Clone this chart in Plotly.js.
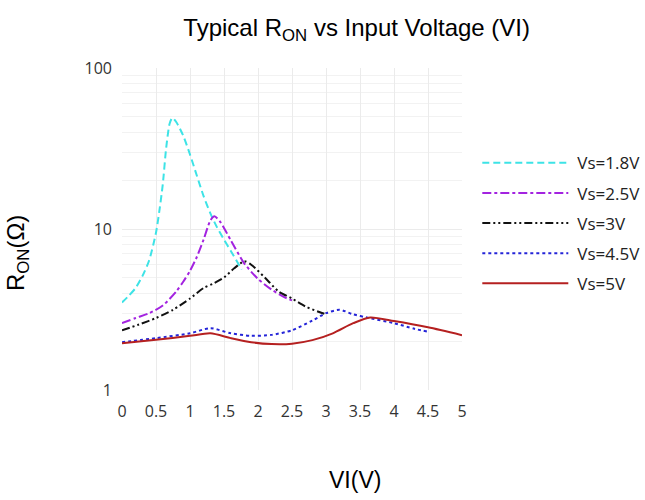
<!DOCTYPE html>
<html>
<head>
<meta charset="utf-8">
<script src="https://cdn.plot.ly/plotly-3.0.1.min.js"></script>
<style>html,body{margin:0;padding:0;background:#fff;}#chart{width:645px;height:500px;}</style>
</head>
<body>
<div id="chart"></div>
<script>
// Vs = 1.8 V
const x18 = [0, 0.1, 0.2, 0.3, 0.4, 0.5, 0.55, 0.6, 0.65, 0.7, 0.74, 0.8, 0.9, 1.0, 1.1, 1.2, 1.3, 1.4, 1.5, 1.6, 1.7, 1.76];
const y18 = [3.5, 3.85, 4.3, 5.1, 6.4, 9.5, 13, 19, 32, 45, 49, 46, 38, 29, 21.5, 16, 12.5, 10.2, 8.6, 7.3, 6.2, 5.6];
// Vs = 2.5 V
const x25 = [0, 0.2, 0.4, 0.6, 0.8, 0.9, 1.0, 1.1, 1.2, 1.3, 1.36, 1.45, 1.6, 1.8, 2.0, 2.2, 2.4, 2.5];
const y25 = [2.6, 2.8, 3.0, 3.35, 4.1, 4.7, 5.5, 6.7, 8.6, 11.3, 12, 11, 8.5, 6.1, 4.9, 4.2, 3.75, 3.6];
// Vs = 3 V
const x3 = [0, 0.25, 0.5, 0.75, 1.0, 1.2, 1.35, 1.5, 1.65, 1.8, 1.9, 2.1, 2.3, 2.5, 2.7, 2.9, 3.0];
const y3 = [2.35, 2.55, 2.8, 3.15, 3.7, 4.3, 4.6, 5.0, 5.7, 6.3, 6.0, 5.0, 4.1, 3.7, 3.3, 3.05, 2.95];
// Vs = 4.5 V
const x45 = [0, 0.5, 1.0, 1.3, 1.6, 1.9, 2.2, 2.5, 2.8, 3.0, 3.2, 3.4, 3.6, 4.0, 4.3, 4.5];
const y45 = [1.98, 2.1, 2.25, 2.42, 2.25, 2.17, 2.2, 2.35, 2.7, 3.0, 3.15, 2.95, 2.82, 2.6, 2.4, 2.3];
// Vs = 5 V
const x5 = [0, 0.5, 1.0, 1.3, 1.6, 1.9, 2.2, 2.5, 2.8, 3.1, 3.4, 3.65, 4.0, 4.5, 5.0];
const y5 = [1.95, 2.05, 2.17, 2.25, 2.1, 1.98, 1.93, 1.94, 2.04, 2.25, 2.6, 2.82, 2.68, 2.45, 2.19];

const seriesNames = ['Vs=1.8V', 'Vs=2.5V', 'Vs=3V', 'Vs=4.5V', 'Vs=5V'];
const xTicks = [0, 0.5, 1, 1.5, 2, 2.5, 3, 3.5, 4, 4.5, 5];
const xTickText = ['0', '0.5', '1', '1.5', '2', '2.5', '3', '3.5', '4', '4.5', '5'];
const yTicks = [1, 10, 100];
const yTickText = ['1', '10', '100'];
const yMinor = [2,3,4,5,6,7,8,9,20,30,40,50,60,70,80,90];

const styles = [
  {color: '#3de3e6', dash: '7px,4px'},
  {color: '#a323e0', dash: 'dashdot'},
  {color: '#111111', dash: '8px,3px,2px,3px,2px,3px'},
  {color: '#2424d8', dash: 'dot'},
  {color: '#b52020', dash: 'solid'}
];
const xs = [x18, x25, x3, x45, x5];
const ys = [y18, y25, y3, y45, y5];

const traces = xs.map((x, i) => ({
  x: x, y: ys[i], name: seriesNames[i], legendgroup: 'g' + i, type: 'scatter', mode: 'lines',
  line: {color: styles[i].color, dash: styles[i].dash, width: 2, shape: 'spline', smoothing: 0.7}
}));

const tickFont = {family: 'Open Sans, sans-serif', size: 16, color: '#333'};
const titleFontFamily = 'Liberation Sans, Arial, sans-serif';

const layout = {
  width: 645, height: 500,
  margin: {l: 122, r: 183, t: 68, b: 110, autoexpand: false},
  paper_bgcolor: '#fff', plot_bgcolor: '#fff',
  title: {text: 'Typical R<sub>ON</sub> vs Input Voltage (VI)', x: 0.553, xanchor: 'center', y: 0.944, yanchor: 'middle',
          font: {family: titleFontFamily, size: 24, color: '#000'}},
  xaxis: {range: [0, 5], tickmode: 'array', tickvals: xTicks, ticktext: xTickText,
          showgrid: true, gridcolor: '#ebebeb', gridwidth: 1, zeroline: false, showline: false,
          ticks: '', tickfont: tickFont, ticklabelstandoff: 10, automargin: false},
  yaxis: {type: 'log', range: [0, 2], tickmode: 'array', tickvals: yTicks, ticktext: yTickText,
          showgrid: true, gridcolor: '#ebebeb', zeroline: false, showline: false, ticks: '',
          tickfont: tickFont, ticklabelstandoff: 9, automargin: false,
          minor: {tickmode: 'array', tickvals: yMinor, showgrid: true, gridcolor: '#f2f2f2', ticks: ''}},
  legend: {x: 1.045, xanchor: 'left', y: 0.76, yanchor: 'top', bgcolor: 'rgba(0,0,0,0)',
           font: {family: 'Open Sans, sans-serif', size: 17, color: '#222'}, itemwidth: 90, tracegroupgap: 5},
  annotations: [
    {text: 'VI(V)', xref: 'paper', yref: 'paper', x: 0.685, y: -0.278, xanchor: 'center', yanchor: 'middle',
     showarrow: false, font: {family: titleFontFamily, size: 23, color: '#000'}},
    {text: 'R<sub>ON</sub>(Ω)', xref: 'paper', yref: 'paper', x: -0.309, y: 0.425, xanchor: 'center', yanchor: 'middle',
     textangle: -90, showarrow: false, font: {family: titleFontFamily, size: 24, color: '#000'}}
  ],
  showlegend: true
};

Plotly.newPlot('chart', traces, layout, {displayModeBar: false, staticPlot: true}).then(function (gd) {
  // lengthen the legend line samples to match the reference's long swatches
  gd.querySelectorAll('.legend .legendlines path').forEach(function (p) {
    p.setAttribute('d', 'M5,0h86');
  });
});
</script>
</body>
</html>
